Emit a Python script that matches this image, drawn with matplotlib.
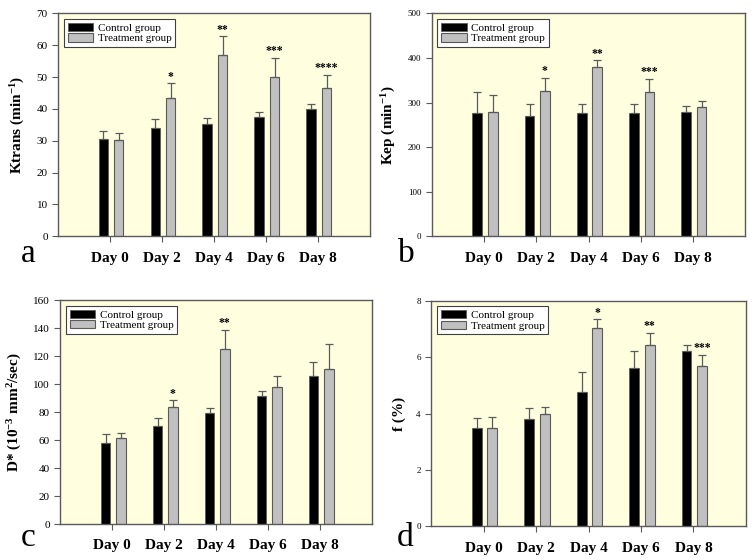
import numpy as np
import matplotlib
matplotlib.use('Agg')
import matplotlib.pyplot as plt

plt.rcParams['font.family'] = ['Liberation Serif', 'DejaVu Serif']
plt.rcParams['mathtext.fontset'] = 'custom'
plt.rcParams['mathtext.rm'] = 'Liberation Serif:bold'
plt.rcParams['mathtext.bf'] = 'Liberation Serif:bold'
plt.rcParams['mathtext.default'] = 'bf'

days = ['Day 0', 'Day 2', 'Day 4', 'Day 6', 'Day 8']

ktrans_ctrl = [30.5, 33.9, 35.2, 37.5, 40.0]
ktrans_ctrl_err = [2.5, 3.1, 2.1, 1.7, 1.7]
ktrans_trt = [30.3, 43.5, 56.8, 50.0, 46.6]
ktrans_trt_err = [2.1, 4.5, 6.0, 6.0, 4.2]
ktrans_stars = ['', '*', '**', '***', '****']

kep_ctrl = [277, 270, 276, 277, 279]
kep_ctrl_err = [46, 26, 20, 19, 14]
kep_trt = [279, 326, 380, 323, 291]
kep_trt_err = [38, 30, 15, 31, 12]
kep_stars = ['', '*', '**', '***', '']

dstar_ctrl = [58.2, 70.1, 79.6, 91.5, 105.5]
dstar_ctrl_err = [6.0, 5.5, 3.1, 3.8, 10.5]
dstar_trt = [61.6, 83.9, 124.8, 97.7, 110.8]
dstar_trt_err = [3.8, 4.5, 14.2, 7.8, 17.8]
dstar_stars = ['', '*', '**', '', '']

f_ctrl = [3.50, 3.81, 4.78, 5.63, 6.21]
f_ctrl_err = [0.33, 0.39, 0.71, 0.58, 0.22]
f_trt = [3.49, 3.98, 7.02, 6.42, 5.69]
f_trt_err = [0.40, 0.27, 0.32, 0.43, 0.40]
f_stars = ['', '', '*', '**', '***']

fig = plt.figure(figsize=(7.55, 5.6), dpi=100)

panels = [
    ([0.077, 0.578, 0.413, 0.398], ktrans_ctrl, ktrans_ctrl_err, ktrans_trt, ktrans_trt_err,
     ktrans_stars, 70, 10, r'Ktrans (min$^{-1}$)', 8, 'a', (0.028, 0.52)),
    ([0.572, 0.578, 0.415, 0.398], kep_ctrl, kep_ctrl_err, kep_trt, kep_trt_err,
     kep_stars, 500, 100, r'Kep (min$^{-1}$)', 6.5, 'b', (0.527, 0.52)),
    ([0.080, 0.064, 0.413, 0.400], dstar_ctrl, dstar_ctrl_err, dstar_trt, dstar_trt_err,
     dstar_stars, 160, 20, r'D* (10$^{-3}$ mm$^{2}$/sec)', 8, 'c', (0.028, 0.012)),
    ([0.571, 0.060, 0.417, 0.403], f_ctrl, f_ctrl_err, f_trt, f_trt_err,
     f_stars, 8, 2, 'f (%)', 6.5, 'd', (0.525, 0.012)),
]

x = np.arange(len(days))
w = 0.185
edge = '#5a5a5a'

for rect, c, ce, t, te, stars, ymax, step, ylab, tfs, letter, lpos in panels:
    ax = fig.add_axes(rect)
    ax.set_facecolor('#ffffe0')
    ekw = dict(ecolor=edge, elinewidth=0.9, capsize=2.6, capthick=0.9)
    ax.bar(x - 0.13, c, w, color='black', edgecolor=edge, linewidth=0.6,
           yerr=[np.zeros(5), ce], error_kw=ekw, label='Control group')
    ax.bar(x + 0.165, t, w, color='#c0c0c0', edgecolor=edge, linewidth=0.8,
           yerr=[np.zeros(5), te], error_kw=ekw, label='Treatment group')
    for i, s in enumerate(stars):
        if s:
            ax.text(x[i] + 0.165, t[i] + te[i] + ymax * 0.003, s, ha='center', va='bottom',
                    fontsize=8.5, fontweight='bold')
    ax.set_xlim(-1, 5)
    ax.set_ylim(0, ymax)
    ax.set_yticks(np.arange(0, ymax + step / 2, step))
    ax.set_xticks(x)
    ax.set_xticklabels(days, fontsize=11, fontweight='bold')
    ax.tick_params(axis='x', length=4, pad=7, color=edge)
    ax.tick_params(axis='y', labelsize=tfs, length=4, color=edge)
    for sp in ax.spines.values():
        sp.set_color(edge)
        sp.set_linewidth(1)
    ax.set_ylabel(ylab, fontsize=11, fontweight='bold', labelpad=7)
    leg = ax.legend(loc='upper left', fontsize=8, fancybox=False, framealpha=1,
                    edgecolor='#404040', handlelength=2.3, handleheight=0.75,
                    handletextpad=0.4, borderaxespad=0.5, labelspacing=0.05,
                    borderpad=0.35)
    leg.get_frame().set_linewidth(0.8)
    fig.text(lpos[0], lpos[1], letter, fontsize=24, ha='left', va='bottom')

fig.savefig('out.png', dpi=100)
